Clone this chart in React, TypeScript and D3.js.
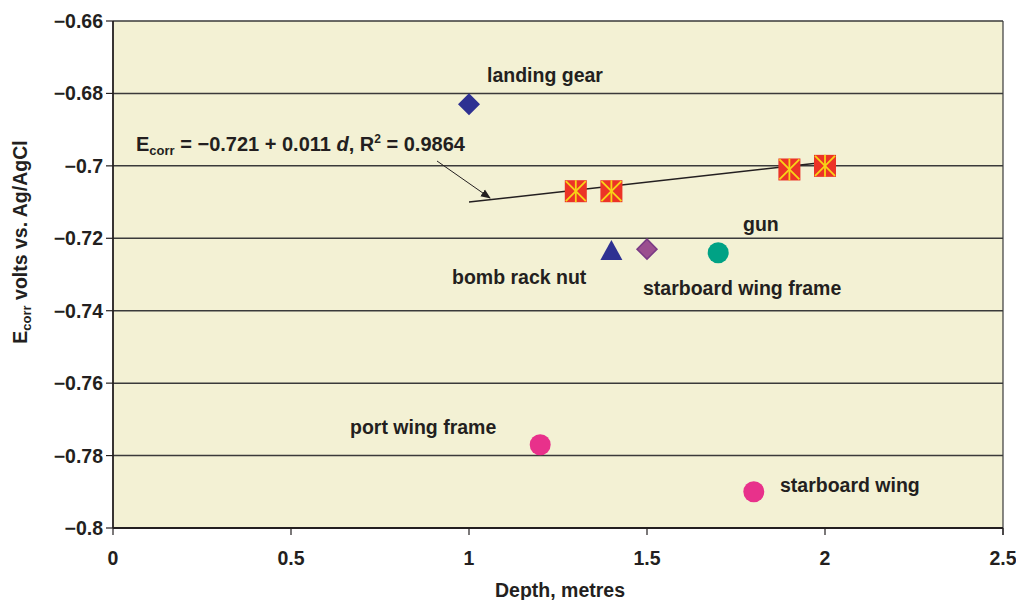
import React from 'react';
import * as d3 from 'd3';

// measured points (depth m, Ecorr V vs Ag/AgCl)
const regressionPts = [
  { d: 1.3, e: -0.707 },
  { d: 1.4, e: -0.707 },
  { d: 1.9, e: -0.701 },
  { d: 2.0, e: -0.700 },
];
const landingGear = { d: 1.0, e: -0.683 };
const bombRackNut = { d: 1.4, e: -0.7235 };
const starboardWingFrame = { d: 1.5, e: -0.723 };
const gun = { d: 1.7, e: -0.724 };
const portWingFrame = { d: 1.2, e: -0.777 };
const starboardWing = { d: 1.8, e: -0.790 };

const xTicks = [0, 0.5, 1, 1.5, 2, 2.5];
const xTickLabels = ['0', '0.5', '1', '1.5', '2', '2.5'];
const yTicks = [-0.66, -0.68, -0.7, -0.72, -0.74, -0.76, -0.78, -0.8];
const yTickLabels = ['\u22120.66', '\u22120.68', '\u22120.7', '\u22120.72', '\u22120.74', '\u22120.76', '\u22120.78', '\u22120.8'];

const fitA = -0.721;
const fitB = 0.011;
const fitRange = [1.0, 2.0];

const W = 1016;
const H = 600;
const m = { left: 113, right: 1003, top: 21, bottom: 528 };
const INK = '#231f20';
const FONT = '"Liberation Sans", Arial, Helvetica, sans-serif';

const App: React.FC = () => {
  const x = d3.scaleLinear().domain([0, 2.5]).range([m.left, m.right]);
  const y = d3.scaleLinear().domain([-0.8, -0.66]).range([m.bottom, m.top]);

  const fitLine = d3.line<number>().x(d => x(d)).y(d => y(fitA + fitB * d));

  const sq = 22;
  const square = (p: { d: number; e: number }, i: number) => {
    const cx = x(p.d), cy = y(p.e), h = sq / 2;
    return (
      <g key={i}>
        <rect x={cx - h} y={cy - h} width={sq} height={sq} fill="#ec3327" />
        <g stroke="#f7d417" strokeWidth={1.8}>
          <line x1={cx - h + 1} y1={cy - h + 1} x2={cx + h - 1} y2={cy + h - 1} />
          <line x1={cx + h - 1} y1={cy - h + 1} x2={cx - h + 1} y2={cy + h - 1} />
          <line x1={cx} y1={cy - h} x2={cx} y2={cy + h} />
        </g>
      </g>
    );
  };

  const diamond = (p: { d: number; e: number }, r: number, fill: string, stroke?: string) => {
    const cx = x(p.d), cy = y(p.e);
    return (
      <polygon
        points={`${cx},${cy - r} ${cx + r},${cy} ${cx},${cy + r} ${cx - r},${cy}`}
        fill={fill}
        stroke={stroke || 'none'}
        strokeWidth={1.5}
      />
    );
  };

  const tx = x(bombRackNut.d), ty = y(bombRackNut.e);

  const labelStyle = { fontFamily: FONT, fontWeight: 700, fontSize: 19.5, fill: INK } as const;

  return (
    <svg width={W} height={H} style={{ position: 'absolute', left: 0, top: 0 }}>
      <defs>
        <marker id="arr" viewBox="0 0 10 10" refX="9" refY="5" markerWidth="10" markerHeight="10" orient="auto" markerUnits="userSpaceOnUse">
          <path d="M0,1 L10,5 L0,9 z" fill={INK} />
        </marker>
      </defs>
      <rect width={W} height={H} fill="#fff" />
      <rect x={m.left} y={m.top} width={m.right - m.left} height={m.bottom - m.top} fill="#f3f1d4" />

      {/* gridlines */}
      {yTicks.map((t, i) => (
        <line key={i} x1={m.left} x2={m.right} y1={y(t)} y2={y(t)} stroke="#3a3a3a" strokeWidth={1.5} />
      ))}
      <line x1={m.right} x2={m.right} y1={m.top} y2={m.bottom + 7} stroke="#3a3a3a" strokeWidth={1.2} />

      {/* axes */}
      <line x1={m.left} x2={m.left} y1={m.top} y2={m.bottom} stroke={INK} strokeWidth={1.8} />
      <line x1={m.left} x2={m.right} y1={m.bottom} y2={m.bottom} stroke={INK} strokeWidth={1.8} />
      {yTicks.map((t, i) => (
        <g key={i}>
          <line x1={m.left - 7} x2={m.left} y1={y(t)} y2={y(t)} stroke={INK} strokeWidth={1.2} />
          <text x={m.left - 10} y={y(t) + 7} textAnchor="end" style={labelStyle}>{yTickLabels[i]}</text>
        </g>
      ))}
      {xTicks.map((t, i) => (
        <g key={i}>
          <line x1={x(t)} x2={x(t)} y1={m.bottom} y2={m.bottom + 7} stroke={INK} strokeWidth={1.2} />
          <text x={x(t)} y={m.bottom + 37} textAnchor="middle" style={labelStyle}>{xTickLabels[i]}</text>
        </g>
      ))}

      {/* axis titles */}
      <text x={560} y={597} textAnchor="middle" style={labelStyle}>Depth, metres</text>
      <text transform={`translate(27,${242}) rotate(-90)`} textAnchor="middle" style={labelStyle}>
        E<tspan fontSize={13} dy={4}>corr</tspan><tspan dy={-4}> volts vs. Ag/AgCl</tspan>
      </text>

      {/* fit line */}
      <path d={fitLine(fitRange) || ''} stroke={INK} strokeWidth={1.5} fill="none" />

      {/* markers */}
      {regressionPts.map(square)}
      {diamond(landingGear, 11, '#2e3192')}
      <polygon points={`${tx},${ty - 11} ${tx + 11},${ty + 9} ${tx - 11},${ty + 9}`} fill="#2e3192" />
      {diamond(starboardWingFrame, 10, '#9b4f8f', '#7a3a85')}
      <circle cx={x(gun.d)} cy={y(gun.e)} r={10.5} fill="#00a285" />
      <circle cx={x(portWingFrame.d)} cy={y(portWingFrame.e)} r={10.5} fill="#e8318b" />
      <circle cx={x(starboardWing.d)} cy={y(starboardWing.e)} r={10.5} fill="#e8318b" />

      {/* labels */}
      <text x={487} y={82} style={labelStyle}>landing gear</text>
      <text x={743} y={231} style={labelStyle}>gun</text>
      <text x={452} y={284} style={labelStyle}>bomb rack nut</text>
      <text x={643} y={295} style={labelStyle}>starboard wing frame</text>
      <text x={350} y={434} style={labelStyle}>port wing frame</text>
      <text x={780} y={492} style={labelStyle}>starboard wing</text>

      {/* equation */}
      <text x={136} y={151} style={{ ...labelStyle, fontSize: 20 }}>
        E<tspan fontSize={13} dy={4}>corr</tspan>
        <tspan dy={-4}> = {'\u2212'}0.721 + 0.011 </tspan>
        <tspan fontStyle="italic">d</tspan>
        <tspan>, R</tspan>
        <tspan fontSize={12} dy={-8}>2</tspan>
        <tspan dy={8}> = 0.9864</tspan>
      </text>
      <line x1={437} y1={161} x2={490} y2={198} stroke={INK} strokeWidth={1} markerEnd="url(#arr)" />
    </svg>
  );
};

export default App;
